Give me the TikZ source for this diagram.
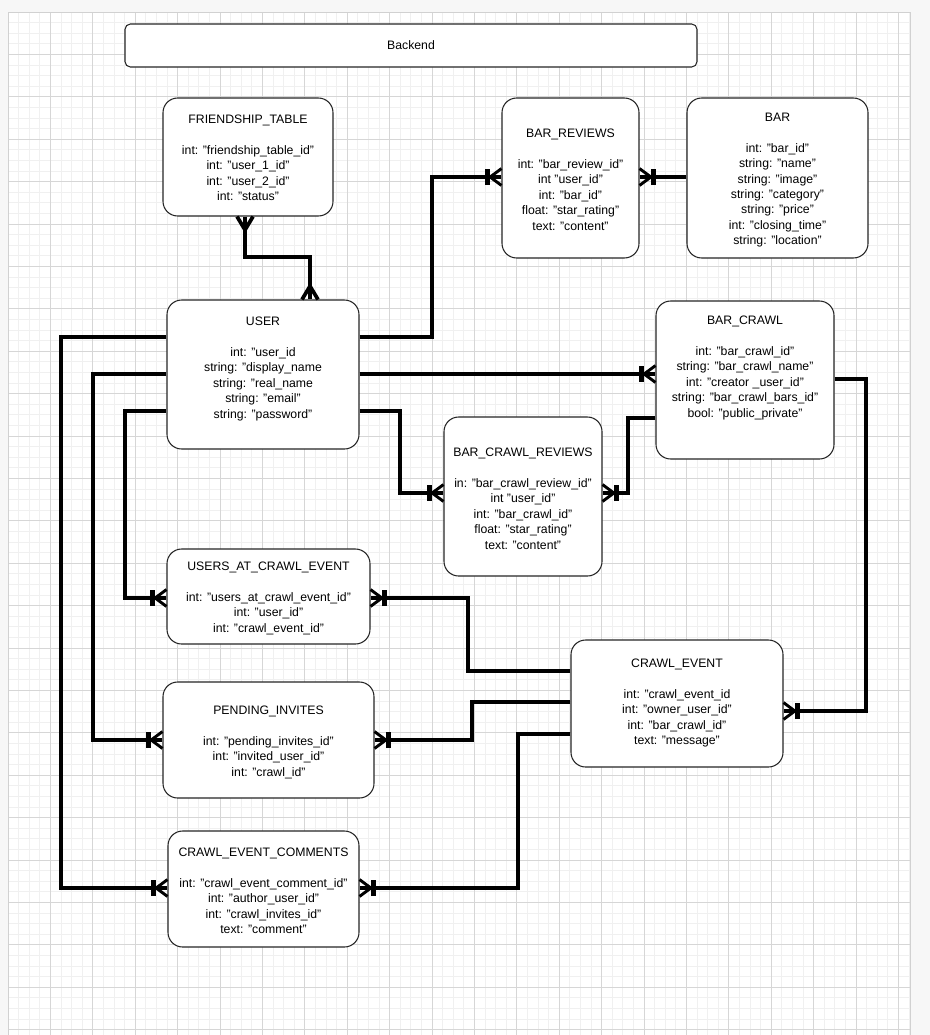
\documentclass[tikz,border=0pt]{standalone}
\usepackage{fontspec}
\setmainfont{Liberation Sans}
\usetikzlibrary{arrows.meta}

% crow's foot with bar (mandatory many)
\pgfdeclarearrow{
  name = ERmm,
  setup code = {
    \pgfarrowssettipend{0pt}
    \pgfarrowssetlineend{0pt}
    \pgfarrowssetvisualtipend{0pt}
    \pgfarrowssetbackend{-13pt}
    \pgfarrowssetvisualbackend{-13pt}
    \pgfarrowshullpoint{0pt}{7pt}
    \pgfarrowshullpoint{0pt}{-7pt}
    \pgfarrowshullpoint{-13pt}{7pt}
    \pgfarrowshullpoint{-13pt}{-7pt}
  },
  drawing code = {
    \pgfsetdash{}{0pt}
    \pgfsetmiterjoin
    \pgfsetbuttcap
    \pgfsetlinewidth{2.2pt}
    \pgfpathmoveto{\pgfqpoint{0pt}{6.3pt}}
    \pgfpathlineto{\pgfqpoint{-8.5pt}{0pt}}
    \pgfpathlineto{\pgfqpoint{0pt}{-6.3pt}}
    \pgfusepathqstroke
    \pgfsetlinewidth{3.8pt}
    \pgfpathmoveto{\pgfqpoint{-10.5pt}{6pt}}
    \pgfpathlineto{\pgfqpoint{-10.5pt}{-6pt}}
    \pgfusepathqstroke
  }
}
% crow's foot only (many)
\pgfdeclarearrow{
  name = ERm,
  setup code = {
    \pgfarrowssettipend{0pt}
    \pgfarrowssetlineend{0pt}
    \pgfarrowssetvisualtipend{0pt}
    \pgfarrowssetbackend{-11pt}
    \pgfarrowssetvisualbackend{-11pt}
    \pgfarrowshullpoint{0pt}{7pt}
    \pgfarrowshullpoint{0pt}{-7pt}
    \pgfarrowshullpoint{-11pt}{0pt}
  },
  drawing code = {
    \pgfsetdash{}{0pt}
    \pgfsetmiterjoin
    \pgfsetbuttcap
    \pgfsetlinewidth{2.8pt}
    \pgfpathmoveto{\pgfqpoint{0pt}{6pt}}
    \pgfpathlineto{\pgfqpoint{-10pt}{0pt}}
    \pgfpathlineto{\pgfqpoint{0pt}{-6pt}}
    \pgfusepathqstroke
  }
}

\newcommand\myentity[7]{%
  \node[entbox, minimum width={(#4-#2)*0.75pt}, minimum height={(#5-#3)*0.75pt}]
    (#1) at ({(#2+#4)/2},{(#3+#5)/2}) {};
  \node[enttxt, anchor=north] (#1-t) at ({(#2+#4)/2},{#6-4.5}) {#7};
}

\begin{document}
\begin{tikzpicture}[x=0.75pt,y=-0.75pt,
  minorgrid/.style={draw=black!6, line width=0.5pt},
  majorgrid/.style={draw=black!16, line width=0.75pt},
  entbox/.style={draw=black!85, line width=0.8pt, fill=white, rounded corners=11pt, inner sep=0pt},
  enttxt/.style={align=center, inner sep=0pt, font=\fontsize{9.2}{11.55}\selectfont, text=black},
  conn/.style={line width=3.3pt, draw=black, miter limit=10},
]
\useasboundingbox (0,0) rectangle (930,1035);
\fill[black!3] (0,0) rectangle (930,1035);
\fill[white] (8,12) rectangle (910,1035);
\foreach \i in {0,...,85} \draw[minorgrid] ({8+\i*10.6},12) -- ({8+\i*10.6},1035);
\foreach \j in {0,...,96} \draw[minorgrid] (8,{12+\j*10.6}) -- (910,{12+\j*10.6});
\foreach \i in {0,...,21} \draw[majorgrid] ({8+\i*42.4},12) -- ({8+\i*42.4},1035);
\foreach \j in {0,...,24} \draw[majorgrid] (8,{12+\j*42.4}) -- (910,{12+\j*42.4});
\draw[black!18, line width=0.75pt] (8,1035) -- (8,12) -- (910,12) -- (910,1035);

% Backend header
\node[draw=black!85, line width=0.8pt, fill=white, rounded corners=4pt, inner sep=0pt,
  minimum width={572*0.75pt}, minimum height={43*0.75pt},
  font=\fontsize{9.2}{11.5}\selectfont] (backend) at (411,45.5) {Backend};

\myentity{FT}{163}{98}{333}{216}{119}{FRIENDSHIP\_TABLE\\[11.75pt]int: "friendship\_table\_id"\\int: "user\_1\_id"\\int: "user\_2\_id"\\int: "status"}
\myentity{BR}{502}{98}{639}{258}{133}{BAR\_REVIEWS\\[11.75pt]int: "bar\_review\_id"\\int "user\_id"\\int: "bar\_id"\\float: "star\_rating"\\text: "content"}
\myentity{BAR}{687}{98}{868}{258}{117}{BAR\\[11.75pt]int: "bar\_id"\\string: "name"\\string: "image"\\string: "category"\\string: "price"\\int: "closing\_time"\\string: "location"}
\myentity{USER}{167}{300}{359}{449}{321}{USER\\[11.75pt]int: "user\_id\\string: "display\_name\\string: "real\_name\\string: "email"\\string: "password"}
\myentity{BC}{656}{301}{834}{459}{320}{BAR\_CRAWL\\[11.75pt]int: "bar\_crawl\_id"\\string: "bar\_crawl\_name"\\int: "creator \_user\_id"\\string: "bar\_crawl\_bars\_id"\\bool: "public\_private"}
\myentity{BCR}{444}{417}{602}{576}{452}{BAR\_CRAWL\_REVIEWS\\[11.75pt]in: "bar\_crawl\_review\_id"\\int "user\_id"\\int: "bar\_crawl\_id"\\float: "star\_rating"\\text: "content"}
\myentity{UACE}{167}{549}{370}{644}{566}{USERS\_AT\_CRAWL\_EVENT\\[11.75pt]int: "users\_at\_crawl\_event\_id"\\int: "user\_id"\\int: "crawl\_event\_id"}
\myentity{CE}{571}{640}{783}{767}{663}{CRAWL\_EVENT\\[11.75pt]int: "crawl\_event\_id\\int: "owner\_user\_id"\\int: "bar\_crawl\_id"\\text: "message"}
\myentity{PI}{163}{682}{374}{798}{710}{PENDING\_INVITES\\[11.75pt]int: "pending\_invites\_id"\\int: "invited\_user\_id"\\int: "crawl\_id"}
\myentity{CEC}{168}{831}{359}{947}{852}{CRAWL\_EVENT\_COMMENTS\\[11.75pt]int: "crawl\_event\_comment\_id"\\int: "author\_user\_id"\\int: "crawl\_invites\_id"\\text: "comment"}

% connectors
\draw[conn, {ERm}-{ERm}] (FT.south -| 245,0) -- (245,257) -- (310,257) -- (USER.north -| 310,0);
\draw[conn, -{ERmm}] (USER.east |- 0,337) -- (432,337) -- (432,177) -- (BR.west |- 0,177);
\draw[conn, -{ERmm}] (BAR.west |- 0,177) -- (BR.east |- 0,177);
\draw[conn, -{ERmm}] (USER.east |- 0,374) -- (BC.west |- 0,374);
\draw[conn, -{ERmm}] (USER.east |- 0,411) -- (400,411) -- (400,493) -- (BCR.west |- 0,493);
\draw[conn, -{ERmm}] (BC.west |- 0,418) -- (628,418) -- (628,493) -- (BCR.east |- 0,493);
\draw[conn, -{ERmm}] (BC.east |- 0,379) -- (866,379) -- (866,711) -- (CE.east |- 0,711);
\draw[conn, -{ERmm}] (USER.west |- 0,411) -- (125,411) -- (125,598) -- (UACE.west |- 0,598);
\draw[conn, -{ERmm}] (USER.west |- 0,374) -- (93,374) -- (93,740) -- (PI.west |- 0,740);
\draw[conn, -{ERmm}] (USER.west |- 0,337) -- (61,337) -- (61,888) -- (CEC.west |- 0,888);
\draw[conn, -{ERmm}] (CE.west |- 0,671) -- (468,671) -- (468,598) -- (UACE.east |- 0,598);
\draw[conn, -{ERmm}] (CE.west |- 0,702) -- (472,702) -- (472,740) -- (PI.east |- 0,740);
\draw[conn, -{ERmm}] (CE.west |- 0,734) -- (518,734) -- (518,888) -- (CEC.east |- 0,888);
\end{tikzpicture}
\end{document}
